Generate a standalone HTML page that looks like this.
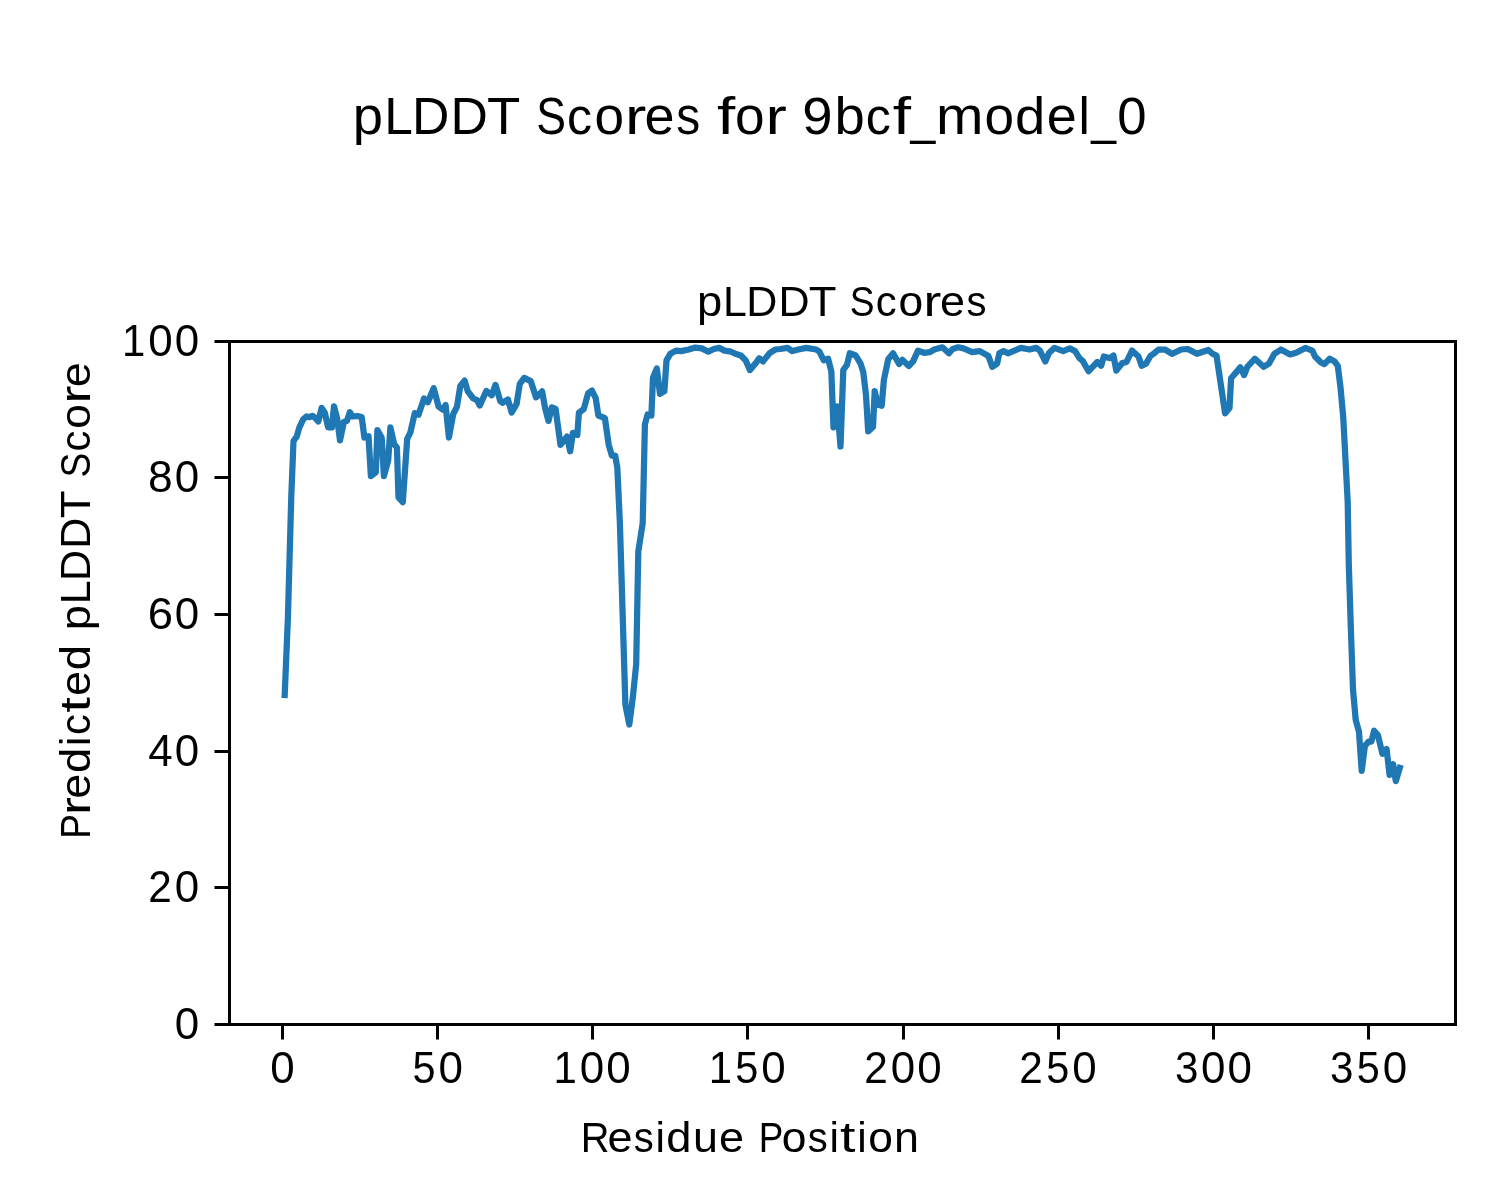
<!DOCTYPE html>
<html><head><meta charset="utf-8"><title>pLDDT Scores for 9bcf_model_0</title>
<style>html,body{margin:0;padding:0;background:#fff;overflow:hidden}svg{display:block;will-change:transform}text{font-family:"Liberation Sans",sans-serif;fill:#000}</style>
</head><body>
<svg width="1500" height="1200" viewBox="0 0 1500 1200">
<rect x="0" y="0" width="1500" height="1200" fill="#ffffff"/>
<g font-size="52.33"><text transform="translate(352.78,133.80) scale(1.040,1)">p</text><text transform="translate(384.18,133.80) scale(0.983,1)">L</text><text transform="translate(412.04,133.80) scale(0.989,1)">D</text><text transform="translate(450.54,133.80) scale(0.989,1)">D</text><text transform="translate(487.00,133.80) scale(1.042,1)">T</text><text transform="translate(536.14,133.80) scale(0.852,1)">S</text><text transform="translate(567.12,133.80) scale(0.959,1)">c</text><text transform="translate(594.52,133.80) scale(1.016,1)">o</text><text transform="translate(624.91,133.80) scale(1.224,1)">r</text><text transform="translate(644.59,133.80) scale(1.032,1)">e</text><text transform="translate(676.25,133.80) scale(0.916,1)">s</text><text transform="translate(717.09,133.80) scale(1.255,1)">f</text><text transform="translate(735.02,133.80) scale(1.016,1)">o</text><text transform="translate(765.41,133.80) scale(1.224,1)">r</text><text transform="translate(802.22,133.80) scale(1.040,1)">9</text><text transform="translate(834.41,133.80) scale(1.040,1)">b</text><text transform="translate(865.75,133.80) scale(0.959,1)">c</text><text transform="translate(892.84,133.80) scale(1.255,1)">f</text><text transform="translate(910.43,133.80) scale(0.852,1)">_</text><text transform="translate(936.00,133.80) scale(1.089,1)">m</text><text transform="translate(984.52,133.80) scale(1.016,1)">o</text><text transform="translate(1015.10,133.80) scale(1.039,1)">d</text><text transform="translate(1046.84,133.80) scale(1.032,1)">e</text><text transform="translate(1078.39,133.80) scale(0.977,1)">l</text><text transform="translate(1091.31,133.80) scale(0.852,1)">_</text><text transform="translate(1117.36,133.80) scale(1.007,1)">0</text></g>
<g font-size="43.31"><text transform="translate(696.97,315.90) scale(1.047,1)">p</text><text transform="translate(723.06,315.90) scale(0.990,1)">L</text><text transform="translate(746.29,315.90) scale(0.995,1)">D</text><text transform="translate(778.41,315.90) scale(0.995,1)">D</text><text transform="translate(808.84,315.90) scale(1.049,1)">T</text><text transform="translate(849.67,315.90) scale(0.858,1)">S</text><text transform="translate(875.63,315.90) scale(0.965,1)">c</text><text transform="translate(898.42,315.90) scale(1.023,1)">o</text><text transform="translate(923.60,315.90) scale(1.233,1)">r</text><text transform="translate(940.00,315.90) scale(1.039,1)">e</text><text transform="translate(966.38,315.90) scale(0.922,1)">s</text></g>
<g font-size="43.31"><text transform="translate(580.78,1151.80) scale(0.920,1)">R</text><text transform="translate(607.47,1151.80) scale(1.039,1)">e</text><text transform="translate(633.86,1151.80) scale(0.922,1)">s</text><text transform="translate(655.54,1151.80) scale(0.983,1)">i</text><text transform="translate(666.36,1151.80) scale(1.046,1)">d</text><text transform="translate(692.96,1151.80) scale(1.037,1)">u</text><text transform="translate(719.10,1151.80) scale(1.039,1)">e</text><text transform="translate(758.65,1151.80) scale(0.851,1)">P</text><text transform="translate(781.65,1151.80) scale(1.023,1)">o</text><text transform="translate(807.73,1151.80) scale(0.922,1)">s</text><text transform="translate(829.41,1151.80) scale(0.983,1)">i</text><text transform="translate(840.11,1151.80) scale(1.286,1)">t</text><text transform="translate(857.29,1151.80) scale(0.983,1)">i</text><text transform="translate(868.15,1151.80) scale(1.023,1)">o</text><text transform="translate(893.88,1151.80) scale(1.037,1)">n</text></g>
<g font-size="43.31"><text transform="translate(89.80,599.90) rotate(-90) translate(-238.75,0) scale(0.851,1)">P</text><text transform="translate(89.80,599.90) rotate(-90) translate(-215.20,0) scale(1.233,1)">r</text><text transform="translate(89.80,599.90) rotate(-90) translate(-198.80,0) scale(1.039,1)">e</text><text transform="translate(89.80,599.90) rotate(-90) translate(-173.17,0) scale(1.046,1)">d</text><text transform="translate(89.80,599.90) rotate(-90) translate(-146.11,0) scale(0.983,1)">i</text><text transform="translate(89.80,599.90) rotate(-90) translate(-135.17,0) scale(0.965,1)">c</text><text transform="translate(89.80,599.90) rotate(-90) translate(-112.54,0) scale(1.286,1)">t</text><text transform="translate(89.80,599.90) rotate(-90) translate(-96.05,0) scale(1.039,1)">e</text><text transform="translate(89.80,599.90) rotate(-90) translate(-70.42,0) scale(1.046,1)">d</text><text transform="translate(89.80,599.90) rotate(-90) translate(-30.33,0) scale(1.047,1)">p</text><text transform="translate(89.80,599.90) rotate(-90) translate(-4.24,0) scale(0.990,1)">L</text><text transform="translate(89.80,599.90) rotate(-90) translate(18.99,0) scale(0.995,1)">D</text><text transform="translate(89.80,599.90) rotate(-90) translate(51.11,0) scale(0.995,1)">D</text><text transform="translate(89.80,599.90) rotate(-90) translate(81.54,0) scale(1.049,1)">T</text><text transform="translate(89.80,599.90) rotate(-90) translate(122.37,0) scale(0.858,1)">S</text><text transform="translate(89.80,599.90) rotate(-90) translate(148.33,0) scale(0.965,1)">c</text><text transform="translate(89.80,599.90) rotate(-90) translate(171.12,0) scale(1.023,1)">o</text><text transform="translate(89.80,599.90) rotate(-90) translate(196.30,0) scale(1.233,1)">r</text><text transform="translate(89.80,599.90) rotate(-90) translate(212.70,0) scale(1.039,1)">e</text></g>
<g font-size="43.60"><text transform="translate(174.69,1038.80) scale(1.007,1)">0</text></g>
<g font-size="43.60"><text transform="translate(148.20,901.80) scale(0.971,1)">2</text><text transform="translate(174.69,901.80) scale(1.007,1)">0</text></g>
<g font-size="43.60"><text transform="translate(148.18,765.80) scale(1.007,1)">4</text><text transform="translate(174.69,765.80) scale(1.007,1)">0</text></g>
<g font-size="43.60"><text transform="translate(147.76,628.80) scale(1.043,1)">6</text><text transform="translate(174.69,628.80) scale(1.007,1)">0</text></g>
<g font-size="43.60"><text transform="translate(147.93,491.80) scale(1.018,1)">8</text><text transform="translate(174.69,491.80) scale(1.007,1)">0</text></g>
<g font-size="43.60"><text transform="translate(122.04,355.80) scale(0.962,1)">1</text><text transform="translate(148.19,355.80) scale(1.007,1)">0</text><text transform="translate(174.69,355.80) scale(1.007,1)">0</text></g>
<g font-size="43.60"><text transform="translate(270.29,1083.00) scale(1.007,1)">0</text></g>
<g font-size="43.60"><text transform="translate(412.47,1083.00) scale(0.951,1)">5</text><text transform="translate(438.45,1083.00) scale(1.007,1)">0</text></g>
<g font-size="43.60"><text transform="translate(553.51,1083.00) scale(0.962,1)">1</text><text transform="translate(579.66,1083.00) scale(1.007,1)">0</text><text transform="translate(606.16,1083.00) scale(1.007,1)">0</text></g>
<g font-size="43.60"><text transform="translate(708.65,1083.00) scale(0.962,1)">1</text><text transform="translate(735.32,1083.00) scale(0.951,1)">5</text><text transform="translate(761.30,1083.00) scale(1.007,1)">0</text></g>
<g font-size="43.60"><text transform="translate(864.16,1083.00) scale(0.971,1)">2</text><text transform="translate(890.64,1083.00) scale(1.007,1)">0</text><text transform="translate(917.14,1083.00) scale(1.007,1)">0</text></g>
<g font-size="43.60"><text transform="translate(1019.30,1083.00) scale(0.971,1)">2</text><text transform="translate(1046.31,1083.00) scale(0.951,1)">5</text><text transform="translate(1072.29,1083.00) scale(1.007,1)">0</text></g>
<g font-size="43.60"><text transform="translate(1174.90,1083.00) scale(0.967,1)">3</text><text transform="translate(1200.99,1083.00) scale(1.007,1)">0</text><text transform="translate(1227.49,1083.00) scale(1.007,1)">0</text></g>
<g font-size="43.60"><text transform="translate(1330.05,1083.00) scale(0.967,1)">3</text><text transform="translate(1356.66,1083.00) scale(0.951,1)">5</text><text transform="translate(1382.64,1083.00) scale(1.007,1)">0</text></g>
<polyline points="284.7,695.0 287.9,618.0 291.3,496.0 293.5,441.0 296.7,436.6 299.4,427.4 303.2,419.3 306.4,416.5 309.7,417.1 312.4,415.8 315.6,418.4 318.3,421.4 321.6,407.9 324.8,412.8 328.1,427.4 331.9,427.4 334.0,406.3 337.3,419.3 340.0,440.4 343.8,422.0 347.0,420.9 349.8,412.2 352.5,416.5 357.3,416.0 361.7,417.1 364.4,437.5 368.5,436.2 370.9,476.1 375.8,472.3 377.4,430.1 381.7,437.7 383.9,476.1 388.2,460.4 390.4,427.4 394.2,444.2 396.9,447.4 398.5,497.3 402.8,502.1 407.2,438.8 410.4,432.3 414.8,413.1 418.5,414.7 424.0,398.5 427.8,402.3 433.7,388.2 438.6,406.6 442.9,409.8 445.6,405.0 448.9,437.5 453.2,414.2 457.0,406.6 460.3,386.0 464.6,380.6 467.8,391.4 473.3,398.5 477.0,400.1 479.8,405.5 486.3,390.9 491.7,395.2 495.5,384.9 500.3,401.2 502.5,402.8 507.9,399.5 511.7,412.5 516.6,403.9 519.8,383.8 524.2,377.9 530.7,381.1 536.1,397.4 542.1,391.4 545.3,409.0 548.5,420.9 551.8,407.4 555.6,409.0 560.5,444.8 567.0,436.6 570.2,451.3 572.9,432.8 577.3,435.0 578.9,412.8 583.8,409.0 588.1,393.3 591.9,390.6 595.7,398.2 598.4,415.5 604.9,418.2 608.7,444.8 611.9,455.6 615.2,455.6 617.3,467.5 619.9,523.3 625.4,705.0 629.3,724.5 632.9,696.7 636.2,664.2 638.3,551.5 642.7,523.3 644.9,424.3 647.6,414.5 651.4,415.6 653.0,377.7 656.8,368.5 660.0,393.9 664.4,391.2 666.5,360.3 670.3,353.8 676.3,350.6 681.2,351.1 688.8,349.5 695.3,347.6 701.8,348.4 708.3,351.7 713.7,349.0 719.1,347.9 724.5,350.6 731.0,351.7 735.3,353.8 740.8,355.5 745.6,360.3 750.0,370.1 755.4,363.6 759.2,358.2 763.0,361.4 770.0,352.8 775.4,349.5 780.4,349.0 787.5,347.9 792.3,351.1 798.3,349.5 806.4,347.9 816.2,349.5 819.4,351.7 823.8,360.3 828.1,358.7 831.3,371.2 833.5,427.5 837.3,406.4 840.5,446.5 843.3,370.1 847.0,364.7 849.8,353.3 855.7,355.5 860.6,363.6 863.3,372.3 866.0,395.0 868.2,431.3 873.0,427.0 874.7,391.2 877.9,404.8 881.7,405.8 883.9,379.8 888.2,359.3 893.1,353.3 899.1,364.1 902.3,359.8 908.8,366.0 913.1,361.4 918.0,350.6 924.0,352.8 929.9,352.2 934.3,349.5 942.4,347.3 948.9,353.3 952.7,349.0 958.1,347.3 963.5,348.4 972.2,352.2 979.8,351.1 988.4,356.0 992.2,366.8 997.1,363.6 999.3,353.3 1003.6,351.1 1007.9,353.3 1020.9,347.9 1029.6,349.5 1036.1,347.9 1039.9,350.6 1045.3,361.4 1049.1,352.8 1054.5,347.9 1063.2,351.1 1069.7,348.4 1075.1,351.1 1079.4,358.2 1082.7,360.9 1088.6,371.2 1097.3,362.0 1101.1,365.8 1103.8,356.5 1110.3,358.2 1113.5,355.5 1116.3,370.6 1122.2,363.0 1126.5,362.0 1132.0,350.6 1138.5,356.5 1141.7,365.8 1146.0,363.6 1150.4,356.0 1154.2,353.3 1158.5,349.5 1165.0,349.5 1172.0,353.8 1181.3,349.5 1187.8,349.0 1197.0,353.8 1208.3,350.0 1212.7,353.8 1216.5,355.5 1225.1,413.4 1229.5,408.0 1231.1,378.2 1240.3,367.4 1244.1,375.0 1247.3,366.8 1254.9,358.7 1263.6,366.8 1269.0,363.6 1274.4,353.8 1280.9,349.5 1290.1,354.4 1296.1,352.8 1305.3,347.9 1312.3,350.6 1315.0,356.5 1321.0,362.5 1324.3,364.1 1329.7,358.7 1334.5,361.4 1337.8,365.8 1340.5,387.4 1343.2,416.7 1347.7,502.0 1348.8,564.6 1350.8,627.0 1353.0,689.5 1355.7,719.9 1359.0,731.8 1361.7,770.8 1364.9,745.9 1368.7,741.5 1371.4,741.5 1374.1,730.7 1377.9,735.0 1382.4,753.9 1386.6,749.1 1389.6,775.0 1393.1,764.3 1395.8,781.1 1399.8,767.9" fill="none" stroke="#1f77b4" stroke-width="6.25" stroke-linejoin="round" stroke-linecap="square"/>
<path d="M282.5,1024.5V1039.5M437.5,1024.5V1039.5M592.5,1024.5V1039.5M747.5,1024.5V1039.5M903.5,1024.5V1039.5M1058.5,1024.5V1039.5M1213.5,1024.5V1039.5M1368.5,1024.5V1039.5M229.5,1024.5H214.5M229.5,887.5H214.5M229.5,751.5H214.5M229.5,614.5H214.5M229.5,477.5H214.5M229.5,341.5H214.5" stroke="#000" stroke-width="3.0" fill="none"/>
<rect x="229.5" y="341.5" width="1226.0" height="683.0" fill="none" stroke="#000" stroke-width="3.0"/>
</svg>
</body></html>
